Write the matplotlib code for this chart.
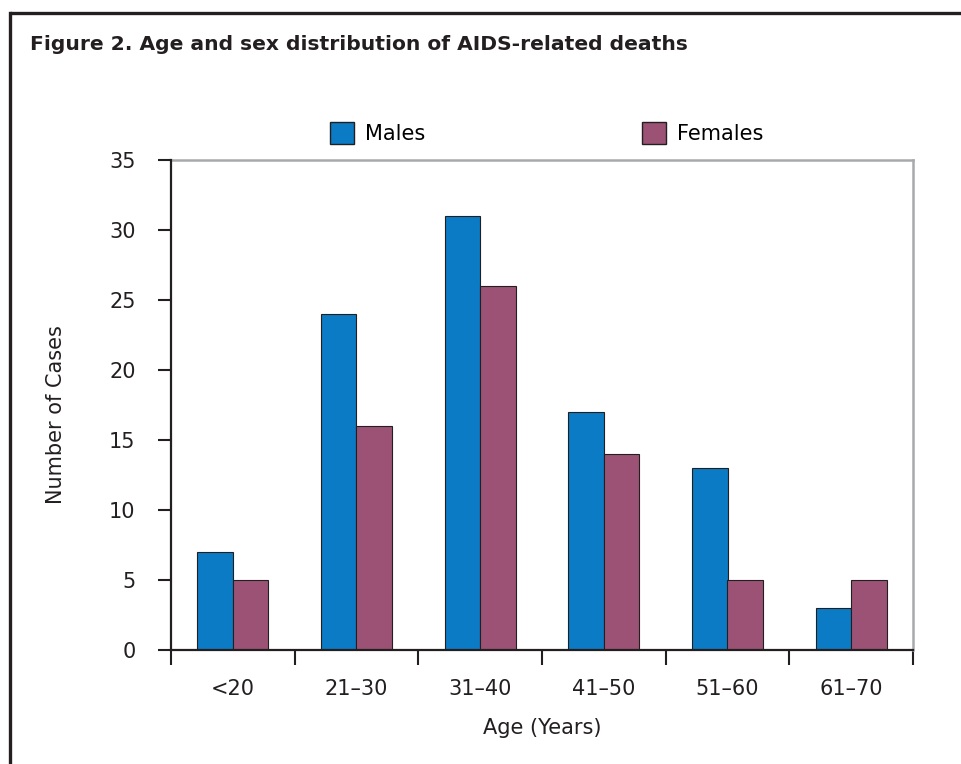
import numpy as np
import matplotlib
matplotlib.use("Agg")
import matplotlib.pyplot as plt
from matplotlib.lines import Line2D

age_groups = ["<20", "21\u201330", "31\u201340", "41\u201350", "51\u201360", "61\u201370"]
males = [7, 24, 31, 17, 13, 3]
females = [5, 16, 26, 14, 5, 5]
y_ticks = [0, 5, 10, 15, 20, 25, 30, 35]

BLUE = "#0A7BC4"
MAUVE = "#9C5274"
DARK = "#231F20"
GREY = "#A7A9AC"

plt.rcParams["font.family"] = ["DejaVu Sans"]

fig = plt.figure(figsize=(9.62, 7.64), dpi=100)
ax = fig.add_axes([171 / 962, 1 - 650 / 764, (913 - 171) / 962, (650 - 160) / 764])

x = np.arange(len(age_groups))
w = 0.287
ax.bar(x - w / 2, males, width=w, color=BLUE, edgecolor=DARK, linewidth=0.8, label="Males", zorder=3)
ax.bar(x + w / 2, females, width=w, color=MAUVE, edgecolor=DARK, linewidth=0.8, label="Females", zorder=3)

ax.set_xlim(-0.5, len(age_groups) - 0.5)
ax.set_ylim(0, 35)
ax.set_yticks(y_ticks)
ax.set_yticklabels([str(t) for t in y_ticks], fontsize=15, color=DARK)
ax.tick_params(axis="y", length=9.5, width=1.5, color=DARK, pad=16, direction="out")

# tick marks on group boundaries, labels under group centres
ax.set_xticks(np.arange(len(age_groups) + 1) - 0.5)
ax.set_xticklabels([])
ax.tick_params(axis="x", which="major", length=11, width=1.5, color=DARK, direction="out")
ax.set_xticks(x, minor=True)
ax.set_xticklabels(age_groups, minor=True, fontsize=15, color=DARK)
ax.tick_params(axis="x", which="minor", length=0, pad=21)

for sp in ("left", "bottom"):
    ax.spines[sp].set_color(DARK)
    ax.spines[sp].set_linewidth(1.6)
    ax.spines[sp].set_zorder(4)
for sp in ("top", "right"):
    ax.spines[sp].set_color(GREY)
    ax.spines[sp].set_linewidth(1.8)

ax.set_ylabel("Number of Cases", fontsize=15, color=DARK)
ax.yaxis.set_label_coords(-0.142, 0.48)
ax.set_xlabel("Age (Years)", fontsize=15, color=DARK)
ax.xaxis.set_label_coords(0.5, -0.139)

leg = fig.legend(loc="center", bbox_to_anchor=(0.5683, 1 - 133 / 764), ncol=2, frameon=False,
                 fontsize=15, handlelength=1.15, handleheight=1.2, handletextpad=0.55,
                 columnspacing=10.37)
for h in leg.legend_handles:
    h.set_edgecolor(DARK)
    h.set_linewidth(1.0)

fig.text(30 / 962, 1 - 45 / 764, "Figure 2. Age and sex distribution of AIDS-related deaths",
         fontsize=14.6, fontweight="bold", color=DARK, ha="left", va="center")

# frame around the figure panel (top and left edges)
fig.add_artist(Line2D([10 / 962, 1.0], [1 - 13 / 764, 1 - 13 / 764], transform=fig.transFigure,
                      color=DARK, linewidth=2.4, solid_capstyle="butt"))
fig.add_artist(Line2D([10 / 962, 10 / 962], [0, 1 - 13 / 764], transform=fig.transFigure,
                      color=DARK, linewidth=2.4, solid_capstyle="projecting"))

fig.savefig("out.png", dpi=100)
